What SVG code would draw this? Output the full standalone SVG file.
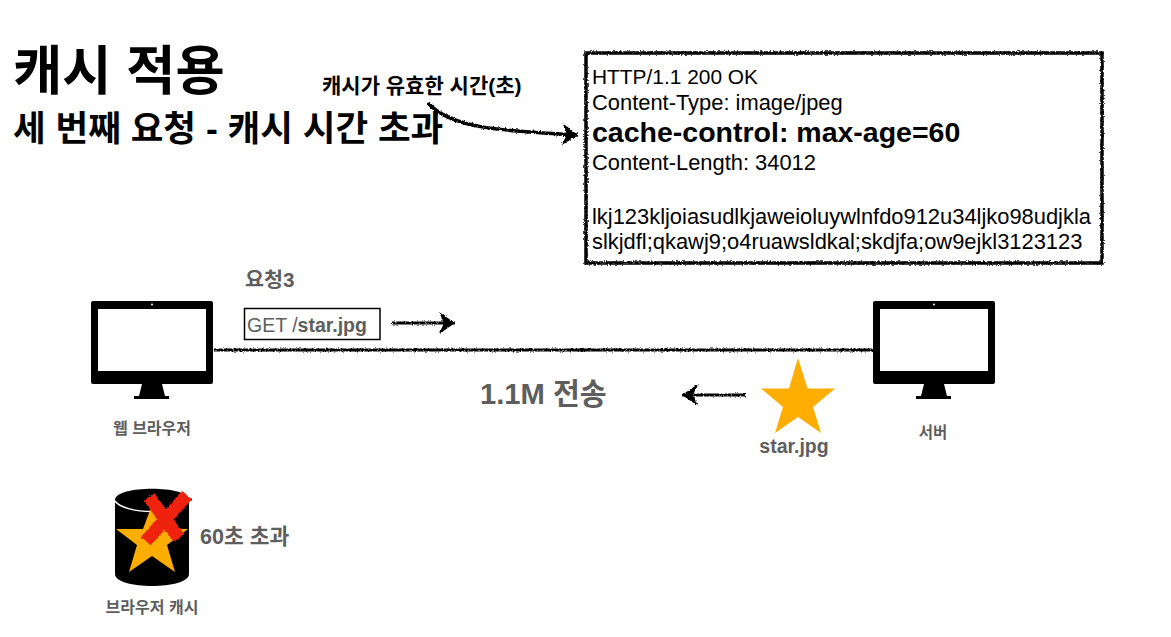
<svg xmlns="http://www.w3.org/2000/svg" width="1171" height="637" viewBox="0 0 1171 637">
<style>
text{font-family:"Liberation Sans","Noto Sans CJK KR",sans-serif}
.k{fill:#000}.g{fill:#5e5e5e}.b{font-weight:700}.m{text-anchor:middle}
.http{font-size:21.9px;fill:#000}
.wire{fill:none;stroke:#000;stroke-width:3;filter:url(#rough)}
.mon{fill:#000}.scr{fill:#fff}
</style>
<defs>
<filter id="rough" x="-5%" y="-5%" width="110%" height="110%" filterUnits="userSpaceOnUse" primitiveUnits="userSpaceOnUse">
<feTurbulence type="fractalNoise" baseFrequency="0.6" numOctaves="2" seed="3"/>
<feDisplacementMap in="SourceGraphic" scale="3.2" xChannelSelector="R" yChannelSelector="G"/>
</filter>
<marker id="head" markerUnits="userSpaceOnUse" markerWidth="28" markerHeight="28" refX="24" refY="14" orient="auto">
<path d="M8 3 L24 14 L8 25 L13 14 Z" fill="#000"/>
</marker>
<g id="monitor">
<rect class="mon" x="0" y="0" width="122" height="83" rx="2"/>
<rect class="scr" x="7" y="8" width="108" height="62"/>
<circle class="scr" cx="61" cy="3.500" r="1"/>
<path class="mon" d="M51 83 L71 83 L74 95 L78 95 L78 98 L43 98 L43 95 L48 95 Z"/>
</g>
</defs>

<g id="title">
<text class="k b" x="13" y="90" font-size="53.500">캐시 적용</text>
<text class="k b" x="13" y="141" font-size="35.500">세 번째 요청 - 캐시 시간 초과</text>
</g>
<g id="note"><text class="k b" x="322" y="93" font-size="21">캐시가 유효한 시간(초)</text></g>

<g id="response">
<rect x="586" y="53" width="516" height="210" fill="#fff" stroke="#000" stroke-width="3.500" filter="url(#rough)"/>
<text class="http" x="592" y="84" style="font-size:20.9px">HTTP/1.1 200 OK</text>
<text class="http" x="592" y="110">Content-Type: image/jpeg</text>
<text class="b" x="592" y="142" font-size="28.500" fill="#000">cache-control: max-age=60</text>
<text class="http" x="592" y="170">Content-Length: 34012</text>
<text class="http" x="592" y="224">lkj123kljoiasudlkjaweioluywlnfdo912u34ljko98udjkla</text>
<text class="http" x="592" y="249">slkjdfl;qkawj9;o4ruawsldkal;skdjfa;ow9ejkl3123123</text>
</g>

<g id="connectors">
<path class="wire" d="M214 350 H873"/>
<path class="wire" style="stroke-width:3.500" d="M428 103 C450 128 500 131 578 135" marker-end="url(#head)"/>
<path class="wire" d="M392 323 H455" marker-end="url(#head)"/>
<path class="wire" d="M745 395 H682" marker-end="url(#head)"/>
</g>

<g id="browser">
<use href="#monitor" x="91" y="301"/>
<text class="g b m" x="152" y="434" font-size="16">웹 브라우저</text>
</g>
<g id="request">
<text class="g b" x="245" y="287" font-size="20.700">요청3</text>
<rect x="244.500" y="308.500" width="135.500" height="31" fill="#fff" stroke="#000" stroke-width="1.500"/>
<text class="g" x="247" y="332" font-size="19.500">GET /<tspan class="b">star.jpg</tspan></text>
</g>
<g id="server">
<use href="#monitor" x="873" y="301"/>
<text class="g b m" x="933" y="438" font-size="15.500">서버</text>
</g>
<g id="transfer">
<text class="g b" x="480" y="404" font-size="29.200">1.1M 전송</text>
<path fill="#ffae00" d="M798 358 L807.500 388.500 L835 388.500 L813 407 L821 433 L798 417 L775 433 L783 407 L761 388.500 L789 388.500 Z"/>
<text class="g b m" x="794" y="453" font-size="19.500">star.jpg</text>
</g>
<g id="cache">
<path fill="#000" d="M115 500 C115 485 189 485 189 500 V574 C189 590 115 590 115 574 Z"/>
<path fill="none" stroke="#fff" stroke-width="1.500" d="M115 501 C125 515 179 515 189 501"/>
<path fill="#ffae00" d="M152 505 L161 529 L188 529 L167 545 L175 572 L152 556 L129 572 L137 545 L116 529 L143 529 Z"/>
<path fill="none" stroke="#ee220c" stroke-width="13" filter="url(#rough)" d="M149 497 L179 538 M187 495 L146 541"/>
<text class="g b" x="200" y="544" font-size="21.500">60초 초과</text>
<text class="g b m" x="152" y="613" font-size="16">브라우저 캐시</text>
</g>
</svg>
